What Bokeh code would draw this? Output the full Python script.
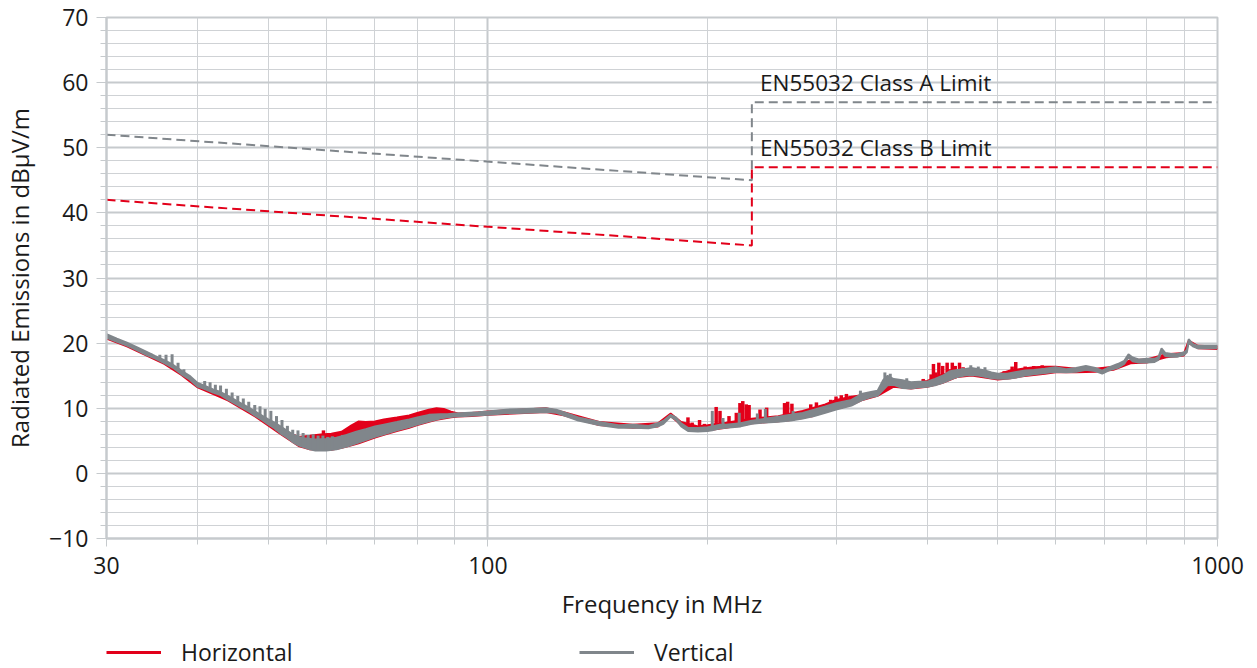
from bokeh.plotting import figure
from bokeh.layouts import column
from bokeh.models import (FixedTicker, SingleIntervalTicker, Legend, LegendItem,
                          Range1d, Label)
from bokeh.embed import file_html
from bokeh.resources import INLINE

FONT = "Open Sans"
RED = "#e2001a"
GRAY = "#80868b"
GRID_MAJ = "#c6cacd"
GRID_MIN = "#cfd2d5"
TXT = "#1a1a1a"

# ---------------- data ----------------
x_major_ticks = [30, 100, 1000]
x_tick_labels = ["30", "100", "1000"]
x_minor_ticks = [40, 50, 60, 70, 80, 90, 200, 300, 400, 500, 600, 700, 800, 900]
series_names = ["Horizontal", "Vertical"]

class_a_f = [30, 230, 230, 1000]
class_a_db = [52, 45, 57, 57]
class_b_f = [30, 230, 230, 1000]
class_b_db = [42, 35, 47, 47]

# Vertical polarisation: band (floor / top of trace)
v_band_f = [30.0, 31.0, 32.0, 33.0, 34.0, 35.0, 36.0, 37.0, 38.0, 39.0, 40.0, 41.0, 42.0,
            43.0, 44.0, 45.0, 46.0, 47.0, 48.0, 49.0, 50.0, 51.0, 52.0, 53.0, 54.0, 55.0,
            56.0, 57.0, 58.0, 60.0, 62.0, 64.0, 66.0, 68.0, 70.0, 72.0, 75.0, 78.0, 80.0,
            83.0, 86.0, 88.0, 90.0, 93.0, 97.0, 100, 106, 113, 120, 124, 127, 133, 142,
            151, 158, 166, 171, 174, 178, 181, 184, 188, 194, 200, 203, 208, 212, 222,
            230, 240, 250, 260, 270, 280, 290, 300, 315, 325, 335, 342, 348, 353, 360,
            370, 380, 390, 400, 410, 420, 430, 440, 450, 460, 470, 480, 490, 500, 515,
            530, 545, 560, 580, 600, 620, 640, 660, 680, 695, 710, 730, 745, 755, 765,
            780, 800, 820, 830, 838, 848, 862, 880, 900, 908, 913, 925, 940, 960, 980, 1000]
v_band_lo = [20.8, 20.2, 19.6, 18.9, 18.2, 17.6, 16.9, 16.2, 15.2, 14.4, 13.3, 12.9, 12.4,
             12.0, 11.3, 10.7, 10.1, 9.5, 8.8, 8.2, 7.5, 6.9, 6.1, 5.5, 4.8, 4.3,
             4.0, 3.7, 3.5, 3.5, 3.7, 4.1, 4.6, 5.1, 5.6, 6.0, 6.6, 7.1, 7.5,
             8.0, 8.4, 8.6, 8.7, 8.8, 8.9, 9.0, 9.2, 9.3, 9.4, 9.3, 8.9, 8.1, 7.4,
             7.0, 7.0, 6.9, 7.2, 7.6, 8.7, 8.2, 7.2, 6.5, 6.4, 6.5, 6.6, 6.9, 7.0, 7.2,
             7.6, 7.8, 7.9, 8.1, 8.4, 8.8, 9.3, 9.8, 10.4, 11.2, 11.7, 11.9, 12.8, 13.5, 13.6,
             13.1, 13.0, 13.2, 13.3, 13.5, 13.9, 14.4, 14.8, 15.0, 15.1, 15.0, 14.8, 14.6, 14.5, 14.5,
             14.7, 15.0, 15.2, 15.4, 15.6, 15.5, 15.6, 15.9, 15.7, 15.3, 15.8, 16.2, 16.8, 17.8, 17.2,
             17.0, 17.0, 17.1, 17.4, 18.7, 18.0, 17.9, 17.9, 18.2, 18.6, 20.1, 19.5, 19.2, 19.2, 19.2, 19.2]
v_band_hi = [21.4, 20.7, 20.1, 19.4, 18.7, 18.0, 17.4, 16.7, 15.8, 15.0, 13.9, 13.4, 12.9,
             12.5, 11.9, 11.3, 10.7, 10.1, 9.5, 8.9, 8.3, 7.8, 7.2, 6.6, 6.0, 5.6,
             5.4, 5.3, 5.2, 5.3, 5.5, 5.9, 6.4, 6.8, 7.2, 7.5, 7.9, 8.3, 8.6,
             9.0, 9.1, 9.1, 9.2, 9.3, 9.4, 9.5, 9.8, 9.9, 10.0, 9.8, 9.4, 8.6, 7.9,
             7.4, 7.5, 7.3, 7.7, 8.1, 9.0, 8.6, 7.7, 7.0, 7.0, 7.1, 7.2, 7.5, 7.5, 7.7,
             8.1, 8.4, 8.7, 9.0, 9.3, 9.8, 10.3, 10.8, 11.3, 12.2, 12.5, 12.7, 14.3, 15.0, 14.5,
             14.3, 14.0, 14.1, 14.1, 14.5, 15.0, 15.7, 15.9, 16.0, 16.2, 16.0, 15.8, 15.5, 15.3, 15.3,
             15.6, 15.8, 15.9, 16.1, 16.3, 16.0, 16.2, 16.5, 16.2, 15.8, 16.3, 16.8, 17.3, 18.3, 17.8,
             17.5, 17.6, 17.6, 17.9, 19.2, 18.5, 18.4, 18.3, 18.6, 19.0, 20.6, 19.9, 19.6, 19.6, 19.6, 19.6]

# Vertical polarisation: narrow peaks (frequency, floor, top)
v_spike_f = [34.5, 35.5, 36.2, 36.9, 37.6, 38.3, 40.9, 41.6, 42.3, 43.0, 43.8, 44.6, 45.4,
             46.2, 47.0, 47.9, 48.7, 49.5, 50.4, 51.3, 52.2, 53.1, 54.0, 54.9, 55.8, 56.7,
             57.6, 58.5, 59.4, 60.3, 61.2, 62.2, 63.2, 64.2,
             203, 210, 221, 234, 240, 262, 324, 350, 356, 375, 447, 459, 470, 480]
v_spike_base = [17.9, 17.3, 16.8, 16.4, 15.9, 15.3, 13.0, 12.7, 12.4, 12.1, 11.6, 11.0, 10.5,
                10.0, 9.5, 8.9, 8.4, 7.9, 7.3, 6.6, 6.0, 5.4, 4.8, 4.4, 4.0, 3.8,
                3.6, 3.5, 3.5, 3.5, 3.6, 3.7, 3.9, 4.1,
                6.7, 7.0, 7.2, 7.6, 7.8, 8.1, 11.1, 13.4, 13.5, 13.0, 15.0, 15.1, 15.0, 14.8]
v_spike_top = [18.4, 18.2, 18.2, 18.3, 17.0, 16.0, 14.2, 14.0, 13.6, 13.5, 13.0, 12.4, 11.9,
               11.5, 11.0, 10.5, 10.3, 9.9, 9.6, 8.8, 8.2, 7.3, 6.7, 6.6, 6.2, 5.9,
               6.0, 5.8, 5.8, 5.6, 5.7, 5.6, 5.9, 6.0,
               9.6, 8.5, 9.3, 9.2, 9.9, 9.6, 12.7, 15.5, 15.3, 14.6, 16.2, 16.6, 16.4, 16.3]

# Horizontal polarisation: band (floor / top of trace)
h_band_f = [30.0, 32.0, 34.0, 36.0, 38.0, 40.0, 44.0, 48.0, 52.0, 55.0, 57.0, 59.0, 61.0,
            63.0, 65.0, 66.5, 68.0, 70.0, 72.0, 75.0, 78.0, 80.0, 83.0, 85.0, 87.0, 89.0,
            91.0, 95.0, 100, 120, 127, 142, 158, 171, 178, 184, 194, 200, 212, 230, 250,
            270, 290, 300, 315, 325, 342, 360, 380, 400, 420, 440, 460, 480, 500, 520,
            540, 560, 580, 600, 640, 680, 720, 760, 800, 850, 900, 913, 940, 1000]
h_band_lo = [20.7, 19.5, 18.1, 16.8, 15.1, 13.2, 11.2, 8.7, 6.0, 4.2, 3.7, 3.6, 3.6,
             3.9, 4.3, 4.6, 5.0, 5.5, 5.9, 6.5, 7.0, 7.4, 7.9, 8.2, 8.4, 8.6,
             8.7, 8.8, 9.0, 9.4, 8.9, 7.4, 7.0, 7.2, 8.8, 7.4, 6.5, 6.6, 7.0, 7.7, 8.0,
             8.5, 9.4, 9.9, 10.5, 11.2, 11.9, 13.3, 13.0, 13.3, 13.9, 14.8, 15.0, 14.7, 14.4, 14.6,
             14.9, 15.1, 15.3, 15.5, 15.5, 15.6, 15.9, 16.9, 17.0, 17.8, 18.1, 20.0, 19.2, 19.1]
h_band_hi = [21.2, 19.9, 18.5, 17.2, 15.6, 13.7, 11.7, 9.3, 6.8, 5.6, 5.8, 6.0, 6.1,
             6.4, 7.4, 8.0, 7.9, 8.0, 8.3, 8.6, 8.9, 9.3, 9.8, 10.0, 9.9, 9.5,
             9.2, 9.3, 9.5, 10.0, 9.4, 7.9, 7.5, 7.7, 9.2, 7.9, 7.2, 7.4, 7.8, 8.4, 8.8,
             9.6, 10.6, 11.3, 11.8, 12.0, 12.4, 13.9, 13.8, 14.2, 15.2, 15.6, 15.7, 15.5, 15.2, 15.8,
             16.1, 16.3, 16.4, 16.4, 16.1, 16.1, 16.4, 17.4, 17.5, 18.3, 18.5, 20.4, 19.6, 19.5]

# Horizontal polarisation: narrow peaks (frequency, floor, top)
h_spike_f = [59.5, 64.5, 188.0, 190.5, 195.0, 198.0, 205.5, 208.0, 214.0, 219.0, 221.5,
             223.5, 226.0, 228.0, 236.0, 241.0, 255.0, 257.5, 261.0, 277.0, 282.0,
             295.0, 300.0, 305.0, 310.0, 314.0, 395, 405, 408, 411, 415, 420, 426, 430,
             433, 437, 443, 448, 510, 523, 529, 534, 545, 560, 575, 590]
h_spike_base = [4.0, 4.3, 6.7, 6.6, 6.6, 6.6, 6.8, 6.9, 7.0, 7.1, 7.2,
                7.3, 7.4, 7.5, 7.7, 7.8, 8.0, 8.0, 8.1, 8.6, 8.9,
                9.6, 9.8, 10.0, 10.2, 10.4, 13.2, 13.4, 13.5, 13.6, 13.7, 13.9, 14.2, 14.4,
                14.5, 14.6, 14.8, 15.0, 14.6, 14.7, 14.8, 14.8, 15.0, 15.2, 15.3, 15.5]
h_spike_top = [6.6, 6.8, 8.6, 7.8, 8.2, 7.6, 10.2, 9.6, 8.8, 9.3, 10.8,
               11.1, 10.6, 10.5, 9.8, 10.1, 10.8, 11.0, 10.7, 10.6, 10.9,
               11.3, 11.8, 12.0, 12.2, 11.9, 14.5, 15.2, 16.8, 15.5, 17.0, 16.5, 17.0, 16.0,
               17.0, 16.5, 17.0, 16.3, 15.7, 16.4, 17.1, 16.0, 16.4, 16.5, 16.6, 16.5]

# ---------------- main figure ----------------
p = figure(x_axis_type="log", x_range=Range1d(30, 1000), y_range=Range1d(-10, 70),
           frame_width=1111, frame_height=521, output_backend="svg",
           toolbar_location=None, min_border_left=106, min_border_right=38,
           min_border_top=17, min_border_bottom=97, background_fill_color="white",
           border_fill_color="white")
p.outline_line_color = GRID_MAJ
p.outline_line_width = 2

# grids
p.xgrid.ticker = FixedTicker(ticks=x_major_ticks, minor_ticks=x_minor_ticks)
p.xgrid.grid_line_color = GRID_MAJ
p.xgrid.grid_line_width = 2
p.xgrid.minor_grid_line_color = GRID_MIN
p.xgrid.minor_grid_line_width = 1
p.ygrid.ticker = SingleIntervalTicker(interval=10, num_minor_ticks=5)
p.ygrid.grid_line_color = GRID_MAJ
p.ygrid.grid_line_width = 2
p.ygrid.minor_grid_line_color = GRID_MIN
p.ygrid.minor_grid_line_width = 1

# axes
xa = p.xaxis[0]
xa.ticker = FixedTicker(ticks=x_major_ticks, minor_ticks=x_minor_ticks)
xa.major_label_overrides = {t: l for t, l in zip(x_major_ticks, x_tick_labels)}
ya = p.yaxis[0]
ya.ticker = SingleIntervalTicker(interval=10, num_minor_ticks=5)
for ax in (xa, ya):
    ax.axis_line_color = GRID_MAJ
    ax.axis_line_width = 2
    ax.major_tick_line_color = GRID_MAJ
    ax.minor_tick_line_color = GRID_MAJ
    ax.major_tick_in = 0
    ax.minor_tick_in = 0
    ax.major_label_text_font = FONT
    ax.major_label_text_font_size = "23px"
    ax.major_label_text_color = TXT
    ax.axis_label_text_font = FONT
    ax.axis_label_text_font_size = "24px"
    ax.axis_label_text_font_style = "normal"
    ax.axis_label_text_color = TXT
xa.major_tick_out = 8
xa.minor_tick_out = 6
xa.major_label_standoff = 10
xa.axis_label = "Frequency in MHz"
xa.axis_label_standoff = 10
ya.major_tick_out = 10
ya.minor_tick_out = 6
ya.major_label_standoff = 8
ya.axis_label = "Radiated Emissions in dBµV/m"
ya.axis_label_standoff = 10

# limit lines
p.line(class_a_f, class_a_db, line_color=GRAY, line_width=2, line_dash="9 5")
p.line(class_b_f, class_b_db, line_color=RED, line_width=2, line_dash="9 5")

# horizontal trace (red)
p.varea(x=h_band_f, y1=h_band_lo, y2=h_band_hi, fill_color=RED)
p.line(h_band_f, h_band_hi, line_color=RED, line_width=1.8)
p.line(h_band_f, h_band_lo, line_color=RED, line_width=1.8)
p.segment(x0=h_spike_f, y0=h_spike_base, x1=h_spike_f, y1=h_spike_top,
          line_color=RED, line_width=3.5)

# vertical trace (gray)
p.varea(x=v_band_f, y1=v_band_lo, y2=v_band_hi, fill_color=GRAY)
p.line(v_band_f, v_band_hi, line_color=GRAY, line_width=1.8)
p.line(v_band_f, v_band_lo, line_color=GRAY, line_width=1.8)
p.segment(x0=v_spike_f, y0=v_spike_base, x1=v_spike_f, y1=v_spike_top,
          line_color=GRAY, line_width=3)

# limit labels
for txt, yv in (("EN55032 Class A Limit", 57.6), ("EN55032 Class B Limit", 47.6)):
    p.add_layout(Label(x=236, y=yv, text=txt, text_font=FONT, text_font_size="22.5px",
                       text_color=TXT, text_baseline="bottom", text_align="left"))

# ---------------- legend strip (frame aligned with the main plot) ----------------
q = figure(width=1255, height=34, output_backend="svg", toolbar_location=None,
           x_axis_location=None, y_axis_location=None, min_border=0,
           x_range=Range1d(0, 1), y_range=Range1d(0, 1),
           background_fill_color="white", border_fill_color="white")
q.outline_line_color = None
q.grid.visible = False
# same series, outside the strip's visible range: only their legend swatches show
leg_h = q.line(h_band_f, h_band_hi, line_color=RED, line_width=3)
leg_v = q.line(v_band_f, v_band_hi, line_color=GRAY, line_width=3)
legend = Legend(items=[LegendItem(label=series_names[0], renderers=[leg_h]),
                       LegendItem(label=series_names[1], renderers=[leg_v])],
                orientation="horizontal", location=(0, 1),
                glyph_width=55, glyph_height=20, label_standoff=20,
                label_width=398, spacing=0, padding=0, margin=0,
                label_text_font=FONT, label_text_font_size="23px",
                label_text_color=TXT, border_line_color=None,
                background_fill_alpha=0)
q.add_layout(legend, "center")

open("out.html", "w").write(file_html(column(p, q, spacing=0), INLINE))
